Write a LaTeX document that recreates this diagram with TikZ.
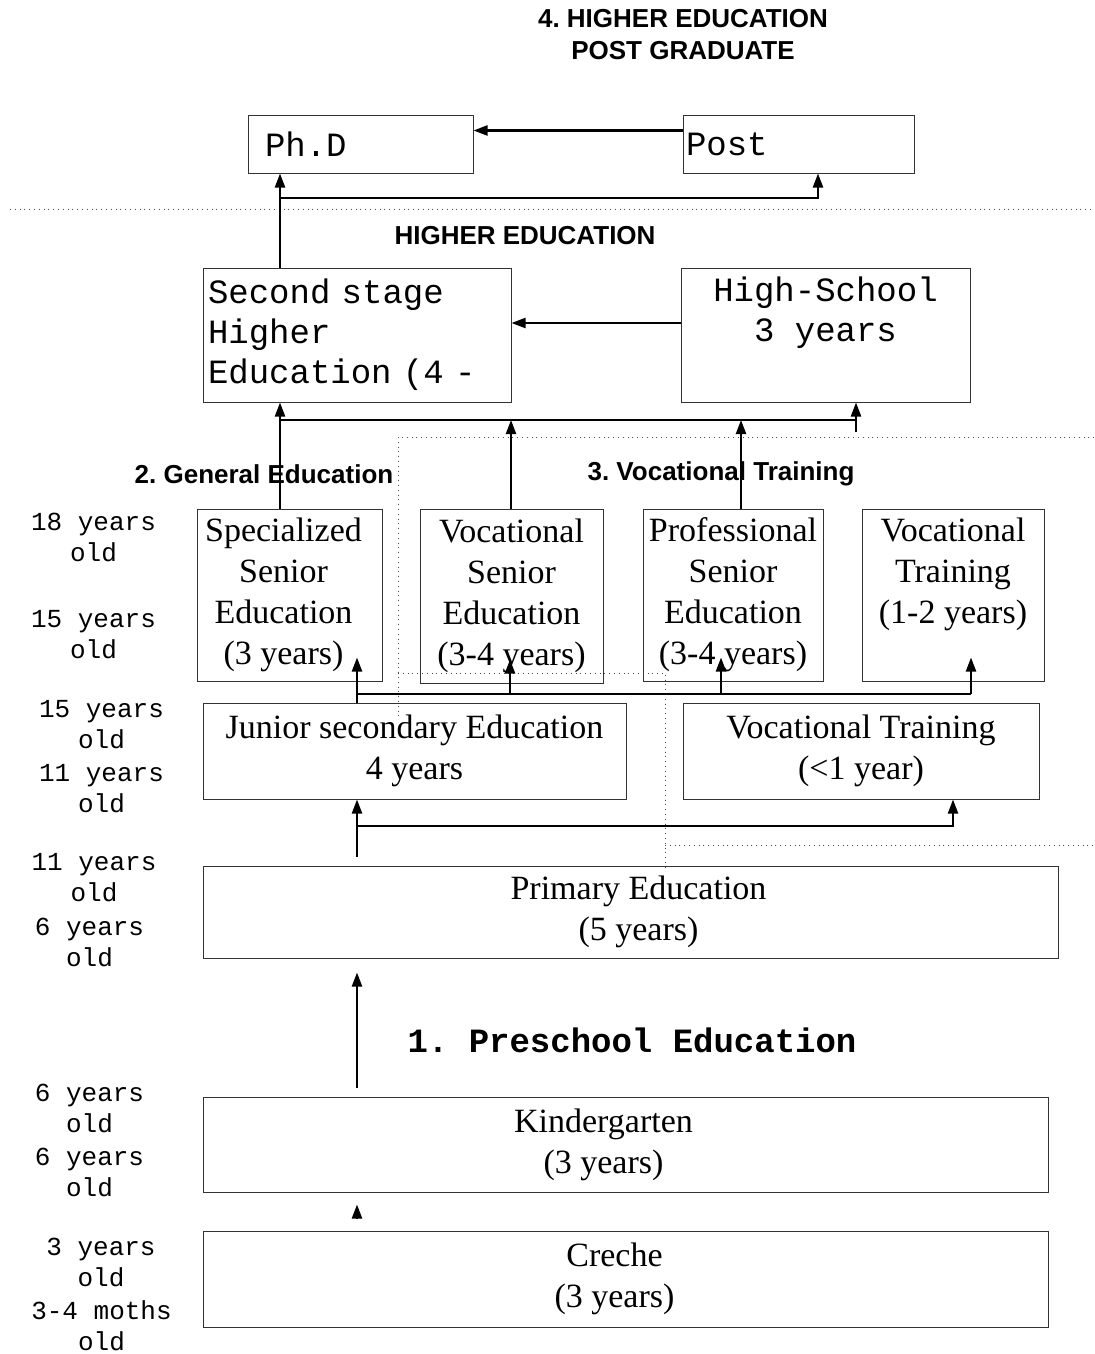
\documentclass[tikz,border=0pt]{standalone}
\usepackage{fontspec}
\setmainfont{Liberation Serif}
\setsansfont{Liberation Sans}
\setmonofont{Liberation Mono}
\usetikzlibrary{arrows.meta}
\frenchspacing

\tikzset{
  box/.style={draw=black!80, line width=0.5pt, inner sep=0pt, align=center,
    font=\fontsize{17}{20.5}\selectfont},
  boxtext/.style={align=center, font=\fontsize{17}{20.5}\selectfont},
  monobox/.style={box, font=\ttfamily\fontsize{17}{20}\selectfont},
  age/.style={align=center, font=\ttfamily\fontsize{13}{15.5}\selectfont},
  head/.style={align=center, font=\sffamily\bfseries\fontsize{13}{16}\selectfont},
  arr/.style={-{Triangle[length=7pt,width=5pt]}, line width=1.1pt},
  link/.style={line width=1.1pt},
  sep/.style={dotted, line width=0.4pt, black!70}
}

\begin{document}
\begin{tikzpicture}[x=0.5pt,y=-0.5pt]
  \useasboundingbox (0,0) rectangle (1094,1354);
  % Headings
  \node[head] (hpost) at (683,35) {4. HIGHER EDUCATION\\POST GRADUATE};
  \node[head] (hhigher) at (525,236) {HIGHER EDUCATION};
  \node[head] (hgeneral) at (264,474) {2. General Education};
  \node[head] (hvoc) at (721,474) {3. Vocational Training};
  \node[font=\ttfamily\bfseries\fontsize{17}{20}\selectfont] (hpre) at (632,1040) {1. Preschool Education};
  % Ages
  \node[age] (a1) at (93.5,537.5) {18 years\\old};
  \node[age] (a2) at (93.5,634.5) {15 years\\old};
  \node[age] (a3) at (101.5,724.5) {15 years\\old};
  \node[age] (a4) at (101.5,788.5) {11 years\\old};
  \node[age] (a5) at (94,878) {11 years\\old};
  \node[age] (a6) at (89.5,942) {6 years\\old};
  \node[age] (a7) at (89.5,1108.5) {6 years\\old};
  \node[age] (a8) at (89.5,1172.5) {6 years\\old};
  \node[age] (a9) at (101,1262.5) {3 years\\old};
  \node[age] (a10) at (101.5,1325.5) {3-4 moths\\old};
  % Boxes
  \node[monobox, minimum width=112.5pt, minimum height=28.5pt, text width=95.5pt,
    inner xsep=8.5pt, align=left] (phd) at (360.5,144.5) {Ph.D};
  \node[monobox, minimum width=115.5pt, minimum height=28.5pt, text width=112.5pt,
    inner xsep=1.5pt, align=left] (post) at (798.5,144.5) {Post};
  \node[monobox, minimum width=154pt, minimum height=67pt, text width=149pt,
    inner xsep=2.5pt, align=left] (second) at (357,335) {Second stage\\Higher\\Education (4 -};
  \node[monobox, minimum width=144.5pt, minimum height=67pt] (hs) at (825.5,335) {High-School\\3 years\\\strut};
  \node[box, minimum width=92.5pt, minimum height=86pt,
    label={[boxtext, xshift=-3pt]center:Specialized\\Senior\\Education\\(3 years)}] (spec) at (289.5,595) {};
  \node[box, minimum width=91.5pt, minimum height=87pt] (vsen) at (511.5,596) {Vocational\\Senior\\Education\\(3-4 years)};
  \node[box, minimum width=90pt, minimum height=86pt] (prof) at (733,595) {Professional\\Senior\\Education\\(3-4 years)};
  \node[box, minimum width=91pt, minimum height=86pt,
    label={[boxtext, yshift=10.5pt]center:Vocational\\Training\\(1-2 years)}] (vtr1) at (953,595) {};
  \node[box, minimum width=211.5pt, minimum height=48pt] (junior) at (414.5,751) {Junior secondary Education\\4 years};
  \node[box, minimum width=178pt, minimum height=48pt] (vtr2) at (861,751) {Vocational Training\\(<1 year)};
  \node[box, minimum width=427.5pt, minimum height=46pt,
    label={[boxtext, xshift=4pt]center:Primary Education\\(5 years)}] (primary) at (630.5,912) {};
  \node[box, minimum width=422.5pt, minimum height=47.5pt,
    label={[boxtext, xshift=-11pt]center:Kindergarten\\(3 years)}] (kinder) at (625.5,1144.5) {};
  \node[box, minimum width=422.5pt, minimum height=48pt,
    label={[boxtext, xshift=-5.5pt]center:Creche\\(3 years)}] (creche) at (625.5,1279) {};
  % Dotted separators
  \draw[sep] (10,209) -- (1094,209);
  \draw[sep] (1094,437) -- (398,437) -- (398,717);
  \draw[sep] (398,673) -- (665,673) -- (665,870);
  \draw[sep] (665,845) -- (1094,845);
  % Junction points
  \coordinate (j1) at (280,198);
  \coordinate (j2) at (818,198);
  \coordinate (k1) at (280,420);
  \coordinate (k2) at (856,420);
  \coordinate (k3) at (856,432);
  \coordinate (k4) at (511,420);
  \coordinate (k5) at (741,420);
  \coordinate (m1) at (357,694);
  \coordinate (m2) at (510,694);
  \coordinate (m3) at (721,694);
  \coordinate (m4) at (971,694);
  \coordinate (n1) at (357,826);
  \coordinate (n2) at (953,826);
  % Draw the connections
  \draw[arr] ([yshift=7pt]post.west) -- ([yshift=7pt]phd.east);
  \draw[arr] (second.north -| j1) -- (phd.south -| j1);
  \draw[arr] (j1) -- (j2) -- (post.south -| j2);
  \draw[arr] ([yshift=6pt]hs.west) -- ([yshift=6pt]second.east);
  \draw[arr] (spec.north -| k1) -- (second.south -| k1);
  \draw[link] (k3) -- (k2);
  \draw[arr] (k1) -- (k2) -- (hs.south -| k2);
  \draw[arr] (vsen.north -| k4) -- (k4);
  \draw[arr] (prof.north -| k5) -- (k5);
  \draw[link] (junior.north -| m1) -- (m1) -- (m4);
  \draw[arr] (m1) -- ([yshift=12pt]spec.south -| m1);
  \draw[arr] (m2) -- ([yshift=12pt]vsen.south -| m2);
  \draw[arr] (m3) -- ([yshift=12pt]prof.south -| m3);
  \draw[arr] (m4) -- ([yshift=12pt]vtr1.south -| m4);
  \draw[link] ([yshift=4.5pt]primary.north -| n1) -- (n1);
  \draw[arr] (n1) -- (junior.south -| n1);
  \draw[arr] (n1) -- (n2) -- (vtr2.south -| n2);
  \draw[arr] ([yshift=4.5pt]kinder.north -| n1) -- ([yshift=-7pt]primary.south -| n1);
  \draw[arr] ([yshift=6.5pt]creche.north -| n1) -- ([yshift=-6pt]kinder.south -| n1);
\end{tikzpicture}
\end{document}
